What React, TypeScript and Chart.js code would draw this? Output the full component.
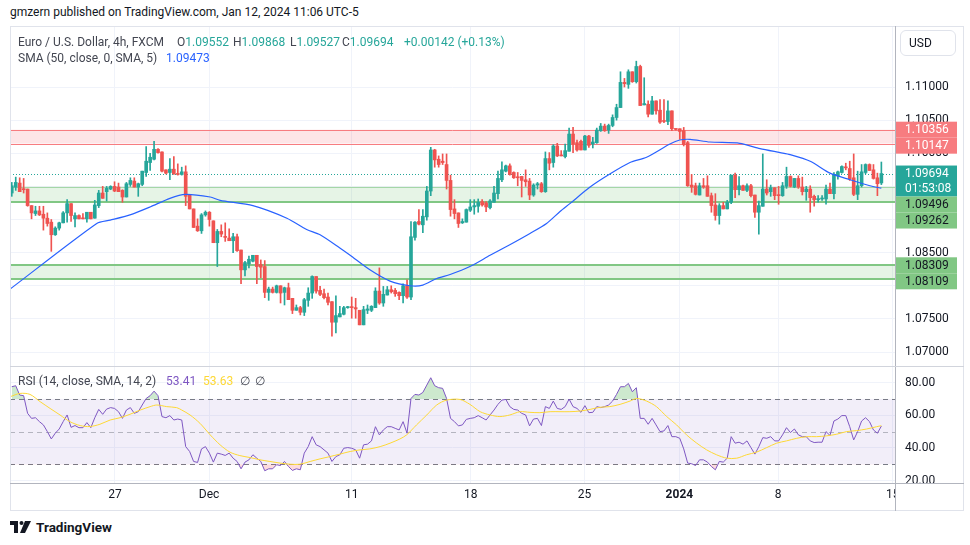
import React, { useEffect, useRef } from 'react';
import { Chart, registerables } from 'chart.js';

Chart.register(...registerables);

// ---- OHLC (EUR/USD, 4h bars) ----
const opens = [
  1.0940, 1.0949, 1.0955, 1.0946, 1.0946, 1.0921, 1.0909, 1.0913, 1.0908, 1.0902,
  1.0896, 1.0877, 1.0887, 1.0895, 1.0910, 1.0924, 1.0901, 1.0906, 1.0902, 1.0901,
  1.0911, 1.0902, 1.0921, 1.0940, 1.0942, 1.0946, 1.0950, 1.0949, 1.0944, 1.0934,
  1.0953, 1.0958, 1.0949, 1.0953, 1.0971, 1.0986, 1.0991, 1.1006, 1.1002, 1.0975,
  1.0971, 1.0976, 1.0969, 1.0968, 1.0972, 1.0938, 1.0916, 1.0890, 1.0883, 1.0907,
  1.0911, 1.0898, 1.0865, 1.0882, 1.0874, 1.0872, 1.0868, 1.0874, 1.0854, 1.0824,
  1.0833, 1.0837, 1.0846, 1.0832, 1.0829, 1.0790, 1.0795, 1.0790, 1.0800, 1.0790,
  1.0797, 1.0781, 1.0763, 1.0767, 1.0760, 1.0778, 1.0789, 1.0814, 1.0793, 1.0788,
  1.0783, 1.0776, 1.0745, 1.0753, 1.0757, 1.0767, 1.0768, 1.0767, 1.0763, 1.0741,
  1.0763, 1.0763, 1.0767, 1.0792, 1.0774, 1.0786, 1.0794, 1.0793, 1.0790, 1.0785,
  1.0800, 1.0783, 1.0873, 1.0897, 1.0892, 1.0904, 1.0943, 1.1005, 1.0991, 1.0988,
  1.0983, 1.0959, 1.0916, 1.0910, 1.0895, 1.0896, 1.0914, 1.0919, 1.0920, 1.0927,
  1.0925, 1.0918, 1.0926, 1.0939, 1.0960, 1.0973, 1.0981, 1.0971, 1.0964, 1.0965,
  1.0960, 1.0958, 1.0937, 1.0952, 1.0954, 1.0942, 1.0992, 1.0986, 1.1011, 1.0997,
  1.0995, 1.1003, 1.1029, 1.1016, 1.1018, 1.1005, 1.1026, 1.1014, 1.1016, 1.1034,
  1.1041, 1.1035, 1.1042, 1.1054, 1.1069, 1.1107, 1.1104, 1.1123, 1.1108, 1.1131,
  1.1073, 1.1074, 1.1059, 1.1079, 1.1065, 1.1049, 1.1048, 1.1064, 1.1037, 1.1037,
  1.1034, 1.1016, 1.0952, 1.0951, 1.0937, 1.0951, 1.0951, 1.0936, 1.0922, 1.0906,
  1.0921, 1.0916, 1.0926, 1.0967, 1.0945, 1.0951, 1.0944, 1.0951, 1.0937, 1.0911,
  1.0920, 1.0946, 1.0942, 1.0948, 1.0937, 1.0936, 1.0950, 1.0965, 1.0949, 1.0962,
  1.0949, 1.0942, 1.0946, 1.0935, 1.0930, 1.0931, 1.0931, 1.0946, 1.0939, 1.0966,
  1.0971, 1.0979, 1.0977, 1.0963, 1.0938, 1.0951, 1.0971, 1.0983, 1.0975, 1.0963,
  1.09552,
];
const highs = [
  1.0956, 1.0964, 1.0963, 1.0962, 1.0946, 1.0921, 1.0920, 1.0920, 1.0920, 1.0910,
  1.0900, 1.0889, 1.0896, 1.0912, 1.0930, 1.0924, 1.0910, 1.0907, 1.0909, 1.0911,
  1.0911, 1.0929, 1.0944, 1.0950, 1.0950, 1.0951, 1.0957, 1.0955, 1.0945, 1.0956,
  1.0963, 1.0963, 1.0955, 1.0973, 1.1010, 1.1000, 1.1018, 1.1007, 1.1002, 1.0975,
  1.0992, 1.0995, 1.0984, 1.0979, 1.0981, 1.0938, 1.0916, 1.0901, 1.0909, 1.0913,
  1.0912, 1.0898, 1.0885, 1.0892, 1.0895, 1.0886, 1.0879, 1.0878, 1.0854, 1.0837,
  1.0845, 1.0846, 1.0846, 1.0839, 1.0838, 1.0798, 1.0798, 1.0801, 1.0800, 1.0798,
  1.0804, 1.0781, 1.0771, 1.0769, 1.0781, 1.0797, 1.0815, 1.0814, 1.0799, 1.0795,
  1.0789, 1.0776, 1.0785, 1.0769, 1.0769, 1.0769, 1.0783, 1.0781, 1.0763, 1.0769,
  1.0771, 1.0770, 1.0797, 1.0827, 1.0799, 1.0799, 1.0800, 1.0796, 1.0791, 1.0803,
  1.0809, 1.0897, 1.0897, 1.0915, 1.0915, 1.0950, 1.1009, 1.1006, 1.0996, 1.0999,
  1.0999, 1.0967, 1.0930, 1.0910, 1.0901, 1.0916, 1.0930, 1.0930, 1.0931, 1.0930,
  1.0927, 1.0930, 1.0950, 1.0973, 1.0987, 1.0982, 1.0984, 1.0972, 1.0971, 1.0965,
  1.0975, 1.0962, 1.0954, 1.0956, 1.0956, 1.1002, 1.1001, 1.1013, 1.1015, 1.1004,
  1.1014, 1.1038, 1.1039, 1.1020, 1.1020, 1.1027, 1.1027, 1.1024, 1.1038, 1.1045,
  1.1044, 1.1044, 1.1058, 1.1074, 1.1123, 1.1113, 1.1126, 1.1123, 1.1139, 1.1133,
  1.1114, 1.1079, 1.1086, 1.1079, 1.1081, 1.1081, 1.1079, 1.1064, 1.1037, 1.1037,
  1.1039, 1.1018, 1.0968, 1.0955, 1.0955, 1.0962, 1.0966, 1.0940, 1.0939, 1.0924,
  1.0926, 1.0929, 1.0967, 1.0970, 1.0965, 1.0952, 1.0954, 1.0953, 1.0937, 1.0928,
  1.0999, 1.0960, 1.0952, 1.0948, 1.0950, 1.0956, 1.0979, 1.0966, 1.0962, 1.0966,
  1.0964, 1.0950, 1.0951, 1.0937, 1.0936, 1.0936, 1.0952, 1.0955, 1.0971, 1.0973,
  1.0981, 1.0985, 1.0988, 1.0999, 1.0973, 1.0983, 1.0984, 1.0984, 1.0983, 1.0970,
  1.09868,
];
const lows = [
  1.0935, 1.0944, 1.0942, 1.0940, 1.0920, 1.0901, 1.0906, 1.0906, 1.0884, 1.0890,
  1.0852, 1.0876, 1.0884, 1.0895, 1.0896, 1.0897, 1.0889, 1.0901, 1.0901, 1.0896,
  1.0901, 1.0902, 1.0918, 1.0932, 1.0928, 1.0945, 1.0942, 1.0942, 1.0926, 1.0934,
  1.0950, 1.0949, 1.0935, 1.0951, 1.0965, 1.0974, 1.0990, 1.1000, 1.0972, 1.0969,
  1.0960, 1.0968, 1.0967, 1.0967, 1.0921, 1.0916, 1.0888, 1.0882, 1.0879, 1.0905,
  1.0890, 1.0865, 1.0829, 1.0874, 1.0867, 1.0868, 1.0850, 1.0852, 1.0803, 1.0815,
  1.0827, 1.0836, 1.0803, 1.0812, 1.0782, 1.0778, 1.0789, 1.0789, 1.0774, 1.0771,
  1.0779, 1.0758, 1.0763, 1.0756, 1.0755, 1.0769, 1.0781, 1.0789, 1.0785, 1.0780,
  1.0771, 1.0724, 1.0729, 1.0753, 1.0756, 1.0766, 1.0751, 1.0751, 1.0741, 1.0741,
  1.0758, 1.0761, 1.0767, 1.0772, 1.0769, 1.0786, 1.0789, 1.0784, 1.0779, 1.0774,
  1.0781, 1.0779, 1.0869, 1.0892, 1.0880, 1.0899, 1.0936, 1.0979, 1.0979, 1.0983,
  1.0946, 1.0905, 1.0901, 1.0888, 1.0894, 1.0896, 1.0912, 1.0908, 1.0911, 1.0920,
  1.0912, 1.0916, 1.0926, 1.0931, 1.0957, 1.0972, 1.0967, 1.0962, 1.0951, 1.0934,
  1.0950, 1.0930, 1.0935, 1.0946, 1.0941, 1.0941, 1.0975, 1.0979, 1.0995, 1.0996,
  1.0993, 1.1003, 1.1001, 1.1003, 1.1005, 1.1005, 1.1009, 1.1008, 1.1015, 1.1033,
  1.1033, 1.1030, 1.1040, 1.1050, 1.1069, 1.1100, 1.1098, 1.1107, 1.1106, 1.1072,
  1.1073, 1.1055, 1.1059, 1.1059, 1.1045, 1.1046, 1.1043, 1.1034, 1.1035, 1.1021,
  1.1011, 1.0950, 1.0941, 1.0937, 1.0937, 1.0947, 1.0935, 1.0911, 1.0899, 1.0893,
  1.0916, 1.0916, 1.0924, 1.0933, 1.0937, 1.0944, 1.0942, 1.0934, 1.0903, 1.0878,
  1.0920, 1.0937, 1.0935, 1.0930, 1.0923, 1.0935, 1.0947, 1.0949, 1.0948, 1.0947,
  1.0937, 1.0929, 1.0911, 1.0920, 1.0926, 1.0929, 1.0923, 1.0939, 1.0931, 1.0961,
  1.0970, 1.0975, 1.0959, 1.0936, 1.0930, 1.0949, 1.0969, 1.0974, 1.0961, 1.0936,
  1.09527,
];
const closes = [
  1.0951, 1.0956, 1.0942, 1.0945, 1.0921, 1.0910, 1.0913, 1.0907, 1.0902, 1.0894,
  1.0877, 1.0887, 1.0895, 1.0910, 1.0924, 1.0906, 1.0906, 1.0901, 1.0901, 1.0911,
  1.0901, 1.0922, 1.0940, 1.0932, 1.0947, 1.0950, 1.0943, 1.0942, 1.0934, 1.0954,
  1.0959, 1.0949, 1.0954, 1.0973, 1.0988, 1.0994, 1.1006, 1.1001, 1.0973, 1.0970,
  1.0976, 1.0969, 1.0968, 1.0972, 1.0935, 1.0916, 1.0888, 1.0883, 1.0907, 1.0911,
  1.0900, 1.0865, 1.0882, 1.0878, 1.0873, 1.0868, 1.0874, 1.0853, 1.0824, 1.0835,
  1.0840, 1.0846, 1.0829, 1.0828, 1.0790, 1.0795, 1.0790, 1.0800, 1.0789, 1.0797,
  1.0779, 1.0763, 1.0767, 1.0760, 1.0779, 1.0789, 1.0814, 1.0792, 1.0787, 1.0782,
  1.0775, 1.0745, 1.0755, 1.0758, 1.0767, 1.0768, 1.0767, 1.0765, 1.0741, 1.0764,
  1.0765, 1.0769, 1.0792, 1.0774, 1.0787, 1.0794, 1.0791, 1.0788, 1.0785, 1.0800,
  1.0783, 1.0874, 1.0896, 1.0893, 1.0905, 1.0943, 1.1005, 1.0990, 1.0983, 1.0986,
  1.0959, 1.0915, 1.0909, 1.0894, 1.0897, 1.0915, 1.0919, 1.0921, 1.0926, 1.0922,
  1.0919, 1.0928, 1.0940, 1.0962, 1.0975, 1.0981, 1.0968, 1.0963, 1.0963, 1.0959,
  1.0957, 1.0937, 1.0952, 1.0954, 1.0942, 1.0992, 1.0985, 1.1011, 1.0996, 1.0996,
  1.1004, 1.1029, 1.1014, 1.1005, 1.1005, 1.1026, 1.1012, 1.1017, 1.1035, 1.1041,
  1.1034, 1.1042, 1.1054, 1.1069, 1.1107, 1.1105, 1.1123, 1.1108, 1.1131, 1.1072,
  1.1075, 1.1059, 1.1079, 1.1064, 1.1047, 1.1048, 1.1064, 1.1037, 1.1036, 1.1033,
  1.1013, 1.0951, 1.0949, 1.0938, 1.0951, 1.0949, 1.0935, 1.0921, 1.0906, 1.0921,
  1.0916, 1.0926, 1.0967, 1.0945, 1.0951, 1.0944, 1.0951, 1.0936, 1.0911, 1.0921,
  1.0946, 1.0940, 1.0948, 1.0936, 1.0936, 1.0951, 1.0965, 1.0950, 1.0962, 1.0949,
  1.0942, 1.0946, 1.0933, 1.0930, 1.0931, 1.0932, 1.0946, 1.0939, 1.0968, 1.0972,
  1.0980, 1.0978, 1.0961, 1.0938, 1.0951, 1.0972, 1.0983, 1.0974, 1.0962, 1.0954,
  1.09694,
];

// ---- SMA(50) line, read at bar positions ----
const smaIdx = [
  -0.43, 21.5, 24.9, 29.9, 35.0, 40.0, 43.9, 50.2, 52.7, 61.0,
  69.6, 74.6, 78.0, 83.0, 85.6, 90.6, 95.7, 100.8, 104.0, 107.5,
  110.9, 115.9, 121.0, 126.0, 131.1, 135.3, 138.7, 141.2, 146.3, 151.4,
  156.4, 160.6, 166.5, 169.0, 171.6, 176.6, 184.2, 189.3, 194.4, 196.9,
  202.0, 207.0, 212.1, 217.1, 220,
];
const smaVal = [
  1.0795, 1.0894, 1.0899, 1.0907, 1.0919, 1.0932, 1.0938, 1.0934, 1.0929, 1.0921,
  1.0902, 1.0885, 1.0877, 1.0857, 1.0846, 1.0824, 1.0807, 1.0800, 1.0801, 1.0811,
  1.0817, 1.0829, 1.0846, 1.0862, 1.0879, 1.0894, 1.0912, 1.0924, 1.0949, 1.0969,
  1.0986, 1.0994, 1.1014, 1.1020, 1.1021, 1.1017, 1.1015, 1.1007, 1.1001, 1.0998,
  1.0988, 1.0970, 1.0960, 1.0951, 1.09473,
];

// ---- RSI(14), one value per bar ----
const rsi = [
  77.5, 78.1, 72.4, 72.0, 61.2, 58.1, 58.5, 56.1, 54.1, 50.0,
  45.5, 49.0, 51.6, 56.1, 60.2, 52.6, 53.7, 52.4, 52.4, 55.5,
  52.4, 58.5, 63.6, 60.6, 63.8, 64.7, 64.2, 62.2, 58.1, 63.2,
  64.7, 61.2, 62.2, 66.3, 70.3, 72.0, 74.8, 72.0, 59.2, 58.5,
  59.8, 57.1, 57.7, 57.1, 40.8, 37.8, 31.7, 31.1, 39.4, 40.8,
  36.8, 31.3, 36.8, 36.2, 35.4, 36.8, 33.7, 31.7, 27.2, 31.3,
  32.7, 35.8, 33.7, 31.7, 26.0, 27.2, 27.2, 29.7, 29.2, 31.7,
  28.6, 26.2, 27.2, 26.6, 36.8, 40.8, 46.9, 41.9, 40.8, 38.8,
  36.8, 31.7, 34.7, 35.8, 39.8, 40.2, 39.8, 38.8, 33.7, 41.9,
  42.3, 44.3, 53.0, 48.0, 51.0, 53.0, 53.0, 52.0, 51.0, 56.1,
  49.0, 70.3, 72.8, 72.4, 74.0, 78.5, 83.0, 78.1, 76.9, 76.5,
  70.3, 58.1,
  56.1, 53.5, 54.1, 57.5, 58.1, 58.5, 59.8, 58.5, 57.1, 60.2,
  63.2, 66.7, 69.3, 69.7, 65.3, 63.6, 63.2, 61.2, 60.2, 53.5,
  57.7, 58.1, 53.7, 65.3, 64.2, 68.7, 64.2, 63.6, 65.3, 69.9,
  65.3, 64.2, 61.8, 65.9, 61.6, 61.8, 65.3, 64.7, 65.3, 66.3,
  68.7, 72.8, 77.5, 77.5, 79.5, 74.4, 76.9, 58.1, 58.1, 54.5,
  58.1, 54.1, 50.0, 50.4, 53.7, 46.9, 46.9, 45.9, 39.4, 30.7,
  30.3, 29.2, 32.7, 32.7, 31.3, 28.6, 26.6, 31.7, 31.3, 33.7,
  46.9, 42.9, 43.5, 42.3, 44.3, 40.2, 36.2, 40.8, 46.3, 45.9,
  46.9, 44.3, 44.3, 48.0, 52.4, 49.4, 51.6, 48.0, 46.9, 46.9,
  44.3, 43.3, 43.5, 43.5, 50.0, 47.6, 56.5, 57.7, 59.8, 59.8,
  53.0, 44.9, 50.0, 56.5, 58.5, 56.1, 51.0, 49.0, 53.41,
];

// ---- RSI moving average (yellow) ----
const rsiMaIdx = [
  -0.4, 2.1, 4.6, 7.2, 9.7, 12.2, 14.7, 17.3, 19.8, 22.3,
  24.9, 27.4, 29.9, 32.5, 35.0, 36.7, 39.2, 41.7, 43.0, 45.1,
  47.6, 50.2, 52.7, 55.2, 57.7, 60.3, 62.8, 65.3, 67.9, 70.4,
  72.9, 75.5, 78.0, 80.5, 83.0, 85.6, 88.1, 90.6, 93.2, 95.7,
  98.2, 99.9, 102.4, 105.0, 107.5, 110.0, 113.4, 115.9, 118.5, 121.0,
  123.5, 126.0, 128.6, 131.1, 133.6, 136.2, 138.7, 141.2, 143.8, 146.3,
  148.8, 151.3, 153.9, 156.4, 158.1, 160.6, 163.1, 165.7, 168.2, 170.7,
  173.3, 175.8, 178.3, 180.9, 183.4, 185.9, 188.4, 191.0, 193.5, 196.0,
  198.6, 201.1, 203.6, 206.2, 208.7, 211.2, 213.7, 216.3, 218.8, 220,
];
const rsiMaVal = [
  71.4, 73.4, 72.8, 68.3, 64.2, 60.2, 56.1, 53.7, 53.1, 54.5,
  57.1, 58.5, 60.6, 63.2, 65.3, 66.3, 65.3, 64.7, 63.2, 60.2,
  55.1, 48.0, 41.9, 37.4, 35.3, 34.1, 32.7, 31.7, 30.7, 30.0,
  30.0, 31.7, 33.3, 34.7, 36.2, 37.8, 38.8, 39.4, 40.8, 42.9,
  45.5, 48.0, 54.1, 60.2, 66.3, 69.3, 69.7, 66.7, 62.2, 60.2,
  59.2, 60.2, 62.2, 61.8, 61.6, 62.2, 62.2, 62.2, 62.6, 63.6,
  64.9, 65.3, 66.7, 68.7, 70.3, 68.7, 65.3, 59.2, 54.1, 48.0,
  42.9, 38.8, 35.8, 33.7, 33.7, 35.8, 37.4, 40.2, 42.9, 44.3,
  45.9, 46.9, 46.9, 47.4, 48.4, 50.0, 50.6, 51.6, 53.0, 53.63,
];

// ---- axes / annotations ----
const xTickPos = [26.1, 49.9, 86.0, 116.1, 144.9, 168.9, 193.9, 222.9];
const xTickLabels = ['27', 'Dec', '11', '18', '25', '2024', '8', '15'];
const priceTicks = [1.07, 1.075, 1.08, 1.085, 1.09, 1.095, 1.1, 1.105, 1.11];
const rsiTicks = [20, 40, 60, 80];
const rsiLevels = [70, 50, 30];
const resistanceZone = [1.10147, 1.10356];
const supportZone = [1.09262, 1.09496];
const lowerZone = [1.08109, 1.08309];
const lastPrice = 1.09694;
const countdown = '01:53:08';

const TEAL = '#26a69a';
const RED = '#ef5350';
const GRID = '#f0f3fa';
const TEXT = '#131722';
const LEG = '#434651';
const PURPLE = '#7e57c2';
const YELLOW = '#fdd835';
const ZGREEN = '#81c784';
const ZRED = '#f77c80';
const FONT = 'Roboto, "Noto Sans", sans-serif';

const X_MIN = -0.45;
const X_MAX = 223.45;
const PRICE_MIN = 1.06789;
const PRICE_MAX = 1.11921;
const RSI_MIN = 18.5;
const RSI_MAX = 90.2;

const fitY = (s: any) => {
  s.width = 70;
  s.paddingTop = 0;
  s.paddingBottom = 0;
};

export default function App() {
  const priceRef = useRef<HTMLCanvasElement>(null);
  const rsiRef = useRef<HTMLCanvasElement>(null);

  useEffect(() => {
    Chart.defaults.font.family = FONT;
    Chart.defaults.font.size = 12;
    Chart.defaults.color = TEXT;

    const idx = closes.map((_, i) => i);
    const colors = idx.map((i) => (closes[i] >= opens[i] ? TEAL : RED));

    const axisMarks = [
      { price: resistanceZone[1], lines: [resistanceZone[1].toFixed(5)], bg: ZRED, fg: '#ffffff' },
      { price: resistanceZone[0], lines: [resistanceZone[0].toFixed(5)], bg: ZRED, fg: '#ffffff' },
      { price: lastPrice, lines: [lastPrice.toFixed(5), countdown], bg: TEAL, fg: '#ffffff' },
      { price: supportZone[1], lines: [supportZone[1].toFixed(5)], bg: ZGREEN, fg: TEXT },
      { price: supportZone[0], lines: [supportZone[0].toFixed(5)], bg: ZGREEN, fg: TEXT },
      { price: lowerZone[1], lines: [lowerZone[1].toFixed(5)], bg: ZGREEN, fg: TEXT },
      { price: lowerZone[0], lines: [lowerZone[0].toFixed(5)], bg: ZGREEN, fg: TEXT },
    ];

    const zonePlugin = {
      id: 'zones',
      beforeDatasetsDraw(chart: any) {
        const { ctx, chartArea: a, scales } = chart;
        const y = scales.y;
        const w = a.right - a.left;
        ctx.save();
        ctx.beginPath();
        ctx.rect(a.left, a.top, w, a.bottom - a.top);
        ctx.clip();
        const band = (lo: number, hi: number, fill: string) => {
          const t = y.getPixelForValue(hi);
          const b = y.getPixelForValue(lo);
          ctx.fillStyle = fill;
          ctx.fillRect(a.left, t, w, b - t);
        };
        const hline = (v: number, color: string, width: number, dash: number[]) => {
          const yy = Math.round(y.getPixelForValue(v)) + (width % 2 ? 0.5 : 0);
          ctx.strokeStyle = color;
          ctx.lineWidth = width;
          ctx.setLineDash(dash);
          ctx.beginPath();
          ctx.moveTo(a.left, yy);
          ctx.lineTo(a.right, yy);
          ctx.stroke();
        };
        band(resistanceZone[0], resistanceZone[1], 'rgba(242,54,69,0.13)');
        hline(resistanceZone[1], ZRED, 1, []);
        hline(resistanceZone[0], ZRED, 1, []);
        band(supportZone[0], supportZone[1], 'rgba(76,175,80,0.14)');
        hline(supportZone[1], '#a5d6a7', 1, []);
        hline(supportZone[0], ZGREEN, 2, []);
        band(lowerZone[0], lowerZone[1], 'rgba(76,175,80,0.14)');
        hline(lowerZone[1], ZGREEN, 2, []);
        hline(lowerZone[0], ZGREEN, 2, []);
        hline(lastPrice, TEAL, 1, [1, 2]);
        ctx.restore();
      },
      afterDraw(chart: any) {
        const { ctx, chartArea: a, scales } = chart;
        const y = scales.y;
        let prev = -Infinity;
        ctx.save();
        ctx.font = '12px ' + FONT;
        ctx.textBaseline = 'middle';
        ctx.textAlign = 'left';
        for (const m of axisMarks) {
          const h = m.lines.length === 1 ? 16 : 31;
          const top = Math.max(y.getPixelForValue(m.price) - 8, prev);
          prev = top + h;
          ctx.fillStyle = m.bg;
          ctx.fillRect(a.right + 1, top, 61, h);
          ctx.fillStyle = m.fg;
          m.lines.forEach((t: string, k: number) => ctx.fillText(t, a.right + 10, top + 8.5 + k * 15));
        }
        ctx.restore();
      },
    };

    const priceChart = new Chart(priceRef.current as HTMLCanvasElement, {
      type: 'bar',
      data: {
        datasets: [
          {
            type: 'line',
            data: smaIdx.map((x, i) => ({ x, y: smaVal[i] })),
            borderColor: '#2962ff',
            borderWidth: 1.2,
            pointRadius: 0,
            tension: 0.25,
            order: 0,
          } as any,
          {
            type: 'bar',
            data: idx.map((i) => ({ x: i, y: [opens[i], closes[i]] })),
            backgroundColor: colors,
            barThickness: 3,
            minBarLength: 1,
            grouped: false,
            order: 1,
          } as any,
          {
            type: 'bar',
            data: idx.map((i) => ({ x: i, y: [lows[i], highs[i]] })),
            backgroundColor: colors,
            barThickness: 1,
            grouped: false,
            order: 2,
          } as any,
        ],
      },
      options: {
        responsive: false,
        animation: false,
        layout: { padding: 0 },
        plugins: { legend: { display: false }, tooltip: { enabled: false } },
        scales: {
          x: {
            type: 'linear',
            min: X_MIN,
            max: X_MAX,
            offset: false,
            afterBuildTicks: (s: any) => {
              s.ticks = xTickPos.map((v) => ({ value: v }));
            },
            ticks: { display: false },
            grid: { color: GRID, drawTicks: false, offset: false },
            border: { display: false },
            afterFit: (s: any) => {
              s.height = 0;
              s.paddingLeft = 0;
              s.paddingRight = 0;
            },
          },
          y: {
            type: 'linear',
            position: 'right',
            min: PRICE_MIN,
            max: PRICE_MAX,
            afterBuildTicks: (s: any) => {
              s.ticks = priceTicks.map((v) => ({ value: v }));
            },
            ticks: {
              padding: 10,
              color: TEXT,
              font: { size: 12 },
              callback: (v: any) => Number(v).toFixed(5),
            },
            grid: { color: GRID, drawTicks: false },
            border: { display: false },
            afterFit: fitY,
          },
        },
      } as any,
      plugins: [zonePlugin],
    });

    const rsiPlugin = {
      id: 'rsiBands',
      beforeDatasetsDraw(chart: any) {
        const { ctx, chartArea: a, scales } = chart;
        const y = scales.y;
        const t = y.getPixelForValue(rsiLevels[0]);
        const b = y.getPixelForValue(rsiLevels[2]);
        ctx.save();
        ctx.fillStyle = 'rgba(126,87,194,0.1)';
        ctx.fillRect(a.left, t, a.right - a.left, b - t);
        rsiLevels.forEach((v, i) => {
          const yy = Math.round(y.getPixelForValue(v)) + 0.5;
          ctx.strokeStyle = i === 1 ? 'rgba(120,123,134,0.5)' : '#787b86';
          ctx.lineWidth = 1;
          ctx.setLineDash([5, 4]);
          ctx.beginPath();
          ctx.moveTo(a.left, yy);
          ctx.lineTo(a.right, yy);
          ctx.stroke();
        });
        ctx.restore();
      },
      afterDraw(chart: any) {
        const { ctx, chartArea: a, width, height } = chart;
        ctx.save();
        ctx.fillStyle = '#ffffff';
        ctx.fillRect(a.right + 1, a.bottom + 1, width - a.right - 1, height - a.bottom - 1);
        ctx.restore();
      },
    };

    const rsiPts = rsi.map((v, i) => ({ x: i, y: v }));
    const rsiChart = new Chart(rsiRef.current as HTMLCanvasElement, {
      type: 'line',
      data: {
        datasets: [
          {
            data: rsiPts,
            borderColor: PURPLE,
            borderWidth: 1,
            pointRadius: 0,
            fill: { target: { value: 70 }, above: 'rgba(76,175,80,0.28)', below: 'rgba(0,0,0,0)' },
            order: 1,
          },
          {
            data: rsiPts,
            borderColor: 'rgba(0,0,0,0)',
            borderWidth: 0,
            pointRadius: 0,
            fill: { target: { value: 30 }, above: 'rgba(0,0,0,0)', below: 'rgba(242,54,69,0.18)' },
            order: 2,
          },
          {
            data: rsiMaIdx.map((x, i) => ({ x, y: rsiMaVal[i] })),
            borderColor: YELLOW,
            borderWidth: 1,
            pointRadius: 0,
            tension: 0.3,
            fill: false,
            order: 0,
          },
        ],
      } as any,
      options: {
        responsive: false,
        animation: false,
        layout: { padding: 0 },
        plugins: { legend: { display: false }, tooltip: { enabled: false } },
        scales: {
          x: {
            type: 'linear',
            min: X_MIN,
            max: X_MAX,
            offset: false,
            afterBuildTicks: (s: any) => {
              s.ticks = xTickPos.map((v) => ({ value: v }));
            },
            ticks: {
              autoSkip: false,
              maxRotation: 0,
              padding: 5,
              color: TEXT,
              callback: (_v: any, i: number) => xTickLabels[i],
              font: (c: any) => ({ size: 12, weight: xTickLabels[c.index] === '2024' ? 'bold' : 'normal' }),
            },
            grid: { color: GRID, drawTicks: false, offset: false },
            border: { display: false },
            afterFit: (s: any) => {
              s.height = 28;
              s.paddingLeft = 0;
              s.paddingRight = 0;
            },
          },
          y: {
            type: 'linear',
            position: 'right',
            min: RSI_MIN,
            max: RSI_MAX,
            afterBuildTicks: (s: any) => {
              s.ticks = rsiTicks.map((v) => ({ value: v }));
            },
            ticks: {
              padding: 10,
              color: TEXT,
              font: { size: 12 },
              callback: (v: any) => Number(v).toFixed(2),
            },
            grid: { color: GRID, drawTicks: false },
            border: { display: false },
            afterFit: fitY,
          },
        },
      } as any,
      plugins: [rsiPlugin],
    });

    return () => {
      priceChart.destroy();
      rsiChart.destroy();
    };
  }, []);

  const abs = (left: number, top: number, extra: any = {}) => ({
    position: 'absolute' as const,
    left,
    top,
    whiteSpace: 'nowrap' as const,
    ...extra,
  });

  return (
    <div
      style={{
        position: 'fixed',
        left: 0,
        top: 0,
        width: 970,
        height: 545,
        background: '#ffffff',
        overflow: 'hidden',
        fontFamily: FONT,
        fontSize: 12,
        color: TEXT,
        lineHeight: '16px',
      }}
    >
      <div style={abs(10, 4, { fontSize: 12, color: TEXT })}>
        gmzern published on TradingView.com, Jan 12, 2024 11:06 UTC-5
      </div>

      <canvas ref={priceRef} width={955} height={340} style={abs(10, 26)} />
      <canvas ref={rsiRef} width={955} height={145} style={abs(10, 366)} />

      {/* frame & separators */}
      <div style={abs(10, 26, { width: 954, height: 485, border: '1px solid #e0e3eb', boxSizing: 'border-box' })} />
      <div style={abs(895, 26, { width: 1, height: 485, background: '#b2b5be' })} />
      <div style={abs(10, 366, { width: 954, height: 1, background: '#d1d4dc' })} />
      <div style={abs(10, 483, { width: 954, height: 1, background: '#b2b5be' })} />

      {/* main legend */}
      <div style={abs(18, 34, { color: LEG })}>Euro / U.S. Dollar, 4h, FXCM</div>
      <div style={abs(177, 34, { color: LEG })}>
        O<span style={{ color: TEAL }}>{opens[opens.length - 1].toFixed(5)}</span>
      </div>
      <div style={abs(233, 34, { color: LEG })}>
        H<span style={{ color: TEAL }}>{highs[highs.length - 1].toFixed(5)}</span>
      </div>
      <div style={abs(290, 34, { color: LEG })}>
        L<span style={{ color: TEAL }}>{lows[lows.length - 1].toFixed(5)}</span>
      </div>
      <div style={abs(342, 34, { color: LEG })}>
        C<span style={{ color: TEAL }}>{closes[closes.length - 1].toFixed(5)}</span>
      </div>
      <div style={abs(404, 34, { color: TEAL })}>+0.00142 (+0.13%)</div>
      <div style={abs(18, 50, { color: LEG })}>SMA (50, close, 0, SMA, 5)</div>
      <div style={abs(166, 50, { color: '#2962ff' })}>{smaVal[smaVal.length - 1].toFixed(5)}</div>

      {/* RSI legend */}
      <div style={abs(18, 373, { color: LEG })}>RSI (14, close, SMA, 14, 2)</div>
      <div style={abs(166, 373, { color: PURPLE })}>{rsi[rsi.length - 1].toFixed(2)}</div>
      <div style={abs(203, 373, { color: YELLOW })}>{rsiMaVal[rsiMaVal.length - 1].toFixed(2)}</div>
      <div style={abs(240, 373, { color: LEG })}>∅</div>
      <div style={abs(255, 373, { color: LEG })}>∅</div>

      {/* currency button */}
      <div
        style={abs(900, 30, {
          width: 56,
          height: 26,
          border: '1px solid #e0e3eb',
          borderRadius: 6,
          boxSizing: 'border-box',
          paddingLeft: 8,
          lineHeight: '24px',
          fontSize: 12,
          color: TEXT,
        })}
      >
        USD
      </div>

      {/* footer logo */}
      <div style={abs(10, 519, { display: 'flex', alignItems: 'center', gap: 4 })}>
        <svg width="22" height="14" viewBox="0 0 22 14">
          <path d="M0 1 H8 V13 H4 V5 H0 Z" fill="#131722" />
          <circle cx="11.5" cy="3" r="2" fill="#131722" />
          <path d="M15 1 H21 L15 13 H10 Z" fill="#131722" />
        </svg>
        <span style={{ fontWeight: 'bold', fontSize: 13.5, color: TEXT }}>TradingView</span>
      </div>
    </div>
  );
}
